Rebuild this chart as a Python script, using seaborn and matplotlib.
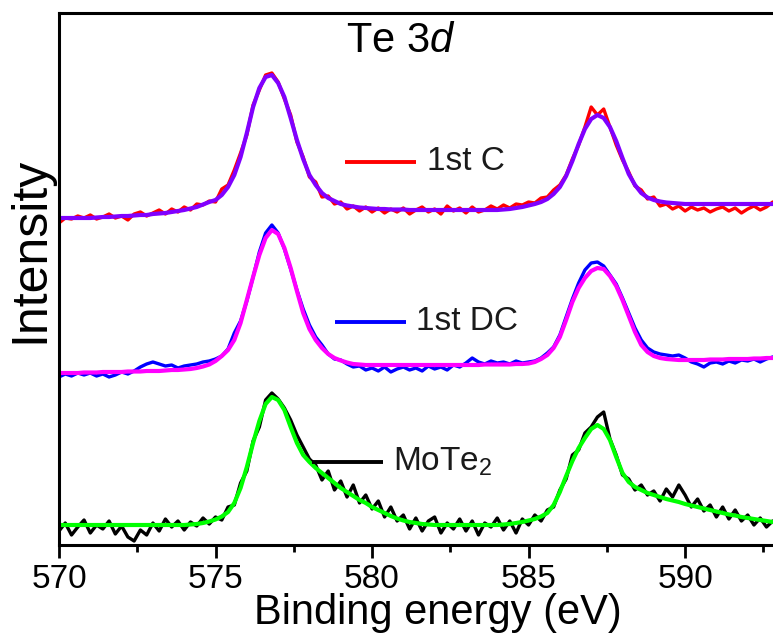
import numpy as np
import pandas as pd
import matplotlib
matplotlib.use("Agg")
import matplotlib.pyplot as plt
from matplotlib.ticker import MultipleLocator
import seaborn as sns

# Binding-energy grid (eV), 0.2 eV steps from 570.0 to 593.0
binding_energy = np.round(np.arange(570.0, 593.0001, 0.2), 1)

# Intensities (a.u., stacked with offsets); each row covers one eV: x.0, x.2, x.4, x.6, x.8
c_measured = [
    322, 327, 326, 329, 327,
    330, 326, 328, 331, 327,
    329, 325, 331, 333, 329,
    332, 335, 331, 336, 333,
    338, 335, 341, 340, 344,
    343, 356, 360, 375, 392,
    410, 440, 455, 470, 472,
    463, 446, 430, 403, 388,
    368, 363, 348, 349, 341,
    343, 336, 339, 334, 338,
    333, 337, 332, 336, 333,
    337, 331, 335, 338, 333,
    336, 331, 339, 334, 337,
    332, 338, 333, 335, 339,
    336, 340, 337, 341, 340,
    343, 342, 347, 348, 355,
    360, 370, 386, 400, 418,
    438, 430, 436, 418, 400,
    385, 373, 359, 355, 346,
    348, 339, 341, 336, 339,
    334, 338, 335, 337, 333,
    336, 338, 334, 337, 332,
    336, 339, 335, 338, 343,
    339,
]
c_fit = [
    327, 327, 327, 327, 327,
    327, 327.5, 328, 328, 328.5,
    329, 329, 329.5, 330, 330,
    331, 331.5, 332, 333, 334,
    335, 336.5, 338, 340.5, 343,
    345, 350, 358, 370, 388,
    412, 438, 457, 468, 470,
    462, 448, 427, 405, 386,
    370, 360, 352, 347, 344,
    341, 339.5, 338.5, 337.5, 337,
    336.5, 336, 336, 335.5, 335.5,
    335.5, 335, 335, 335, 335,
    335, 335, 335, 335, 335,
    335, 335, 335, 335, 335,
    335, 335.5, 336, 337, 338,
    339.5, 341, 343, 346, 351,
    358, 369, 384, 401, 416,
    426, 430, 427, 418, 404,
    387, 371, 360, 352, 347.5,
    345, 343.5, 342.5, 342, 341.5,
    341, 341, 341, 341, 341,
    341, 341, 341, 341, 341,
    341, 341, 341, 341, 341,
    341,
]
dc_measured = [
    168, 171, 169, 172, 170,
    172, 169, 171, 168, 170,
    173, 171, 174, 178, 181,
    183, 181, 179, 180, 177,
    179, 180, 181, 183, 184,
    186, 189, 196, 212, 224,
    244, 268, 293, 312, 320,
    312, 296, 276, 255, 236,
    220, 208, 200, 191, 186,
    185, 181, 178, 179, 175,
    177, 174, 178, 173, 176,
    178, 175, 177, 174, 179,
    176, 178, 175, 180, 178,
    182, 187, 183, 181, 184,
    182, 183, 181, 184, 182,
    183, 184, 187, 192, 198,
    210, 228, 246, 262, 275,
    282, 283, 279, 270, 261,
    247, 232, 217, 205, 197,
    193, 191, 190, 189, 190,
    187, 183, 181, 178, 182,
    183, 181, 184, 182, 185,
    184, 186, 183, 186, 188,
    187,
]
dc_fit = [
    172, 172, 172, 172, 172.5,
    172.5, 172.5, 173, 173, 173,
    173, 173.5, 173.5, 173.5, 174,
    174, 174, 174.5, 175, 175,
    175.5, 176, 177, 178.5, 180.5,
    184, 189, 195, 205, 222,
    245, 268, 290, 307, 315,
    311, 297, 277, 254, 232,
    216, 205, 197, 191, 187,
    184.5, 182.5, 181, 180.5, 180,
    180, 180, 180, 180, 180,
    180, 180, 180, 180, 180,
    180, 180, 180, 180, 180,
    180, 180, 180, 180.5, 180.5,
    180.5, 180.5, 180.5, 181, 181,
    181.5, 183, 186, 190, 197,
    208, 225, 243, 257, 267,
    274, 277, 276, 269, 259,
    245, 229, 213, 200, 193,
    189, 187, 186, 185.5, 185,
    185, 185, 185, 185, 185.5,
    185.5, 185.5, 186, 186, 186,
    186, 186.5, 186.5, 187, 187,
    187,
]
mote2_measured = [
    14, 22, 10, 18, 25,
    12, 20, 16, 24, 11,
    19, 8, 4, 15, 10,
    22, 14, 26, 18, 24,
    15, 23, 19, 27, 21,
    28, 25, 38, 40, 62,
    74, 104, 118, 145, 152,
    146, 137, 125, 110, 98,
    86, 80, 65, 74, 55,
    64, 48, 60, 42, 50,
    36, 44, 28, 38, 24,
    30, 16, 27, 14, 24,
    28, 12, 22, 16, 26,
    14, 24, 10, 22, 18,
    27, 15, 24, 12, 26,
    20, 30, 24, 35, 38,
    55, 66, 90, 95, 112,
    118, 128, 133, 106, 90,
    70, 66, 55, 60, 50,
    54, 44, 56, 48, 60,
    50, 38, 46, 34, 40,
    28, 38, 26, 35, 24,
    30, 20, 27, 18, 24,
    20,
]
mote2_fit = [
    20, 20, 20, 20, 20,
    20, 20, 20, 20, 20,
    20, 20, 20, 20, 20,
    20, 20, 20, 20, 20,
    20, 20.5, 21, 22, 23.5,
    25.5, 28.5, 33, 42, 57,
    78, 102, 124, 141, 148,
    145, 135, 118, 102, 90,
    83, 77, 72, 67, 62,
    57, 53, 49, 45, 42,
    38, 35, 32, 29, 26.5,
    24.5, 23, 22, 21, 20.5,
    20, 20, 20, 20, 20,
    20, 20, 20, 20, 20,
    20, 20.5, 21, 22, 23,
    24.5, 26, 28.5, 32, 40,
    53, 69, 84, 97, 107,
    116, 120, 116, 105, 88,
    72, 63, 58, 55, 52,
    50, 48, 46, 44.5, 43,
    41, 39.5, 38, 36.5, 35,
    33.5, 32, 30.5, 29.5, 28,
    27, 26, 25, 24, 23,
    22,
]

sample_labels = ["1st C", "1st DC", "MoTe$_2$"]

spectra = pd.DataFrame({
    "energy": binding_energy,
    "c_measured": c_measured, "c_fit": c_fit,
    "dc_measured": dc_measured, "dc_fit": dc_fit,
    "mote2_measured": mote2_measured, "mote2_fit": mote2_fit,
})

sns.set_theme(style="ticks")
plt.rcParams["font.family"] = ["Liberation Sans", "DejaVu Sans"]
plt.rcParams["mathtext.fontset"] = "custom"
plt.rcParams["mathtext.rm"] = "Liberation Sans"
plt.rcParams["mathtext.it"] = "Liberation Sans:italic"

fig = plt.figure(figsize=(7.73, 6.35), dpi=100)
ax = fig.add_axes([59 / 773, 90 / 635, 720 / 773, 532 / 635])

# (column, colour, line width); measured first, fit drawn over it
traces = [
    ("c_measured", "#ff0000", 2.4), ("c_fit", "#8000ff", 3.0),
    ("dc_measured", "#0000ff", 2.4), ("dc_fit", "#ff00ff", 3.0),
    ("mote2_measured", "#000000", 2.4), ("mote2_fit", "#00ff00", 3.0),
]
for col, color, lw in traces:
    sns.lineplot(data=spectra, x="energy", y=col, color=color, lw=lw,
                 estimator=None, sort=False, ax=ax)

ax.set_xlim(570, 593)
ax.set_ylim(0, 532)
ax.set_yticks([])
ax.set_xticks([570, 575, 580, 585, 590])
ax.xaxis.set_minor_locator(MultipleLocator(2.5))
ax.tick_params(axis="x", which="major", direction="out", length=9, width=2,
               labelsize=24, pad=5, color="black", labelcolor="black")
ax.tick_params(axis="x", which="minor", direction="out", length=5, width=2,
               color="black")
for sp in ax.spines.values():
    sp.set_visible(True)
    sp.set_linewidth(2.2)
    sp.set_color("black")

ax.set_xlabel("Binding energy (eV)", fontsize=30, color="black")
ax.xaxis.set_label_coords(0.526, -0.09)
ax.set_ylabel("Intensity", fontsize=36, color="black")
ax.yaxis.set_label_coords(-0.008, 0.555)

ax.text(580.93, 504, "Te 3$d$", fontsize=30, ha="center", va="center", color="black")

# sample keys: short line segment followed by the label
key_specs = [
    (sample_labels[0], "#ff0000", (579.14, 581.40), 383, 581.76),
    (sample_labels[1], "#0000ff", (578.82, 581.09), 223, 581.40),
    (sample_labels[2], "#000000", (578.08, 580.35), 83, 580.67),
]
for label, color, (x0, x1), yk, xt in key_specs:
    ax.plot([x0, x1], [yk, yk], color=color, lw=2.8, solid_capstyle="butt")
    ax.text(xt, yk, label, fontsize=24, ha="left", va="center", color="#1a1a1a")

fig.savefig("out.png", dpi=100)
